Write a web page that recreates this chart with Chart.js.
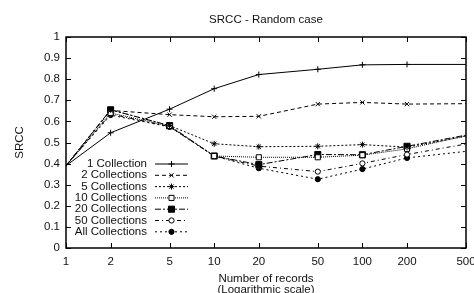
<!DOCTYPE html>
<html>
<head>
<meta charset="utf-8">
<title>SRCC - Random case</title>
<script src="https://cdn.jsdelivr.net/npm/chart.js@4/dist/chart.umd.min.js"></script>
<style>
  html, body { margin: 0; padding: 0; background: #fff; }
  #wrap { width: 474px; height: 293px; }
</style>
</head>
<body>
<div id="wrap"><canvas id="srcc-chart"></canvas></div>
<script>
// data
const records = [1, 2, 5, 10, 20, 50, 100, 200, 500];
const xTicks = [1, 2, 5, 10, 20, 50, 100, 200, 500];
const yTicks = [0, 0.1, 0.2, 0.3, 0.4, 0.5, 0.6, 0.7, 0.8, 0.9, 1];

const coll1 = [0.39, 0.546, 0.658, 0.755, 0.822, 0.847, 0.868, 0.870, 0.870];
const coll2 = [0.39, 0.652, 0.632, 0.622, 0.624, 0.682, 0.690, 0.682, 0.684];
const coll5 = [0.39, 0.655, 0.580, 0.494, 0.480, 0.482, 0.490, 0.478, 0.530];
const coll10 = [0.39, 0.640, 0.578, 0.436, 0.430, 0.430, 0.440, 0.470, 0.532];
const coll20 = [0.39, 0.655, 0.580, 0.436, 0.395, 0.443, 0.442, 0.482, 0.535];
const coll50 = [0.39, 0.635, 0.575, 0.436, 0.388, 0.362, 0.401, 0.443, 0.493];
const collAll = [0.39, 0.630, 0.574, 0.436, 0.378, 0.326, 0.374, 0.427, 0.458];

const FONT = "'Liberation Sans', Arial, Helvetica, sans-serif";
const FS = 11.5;
Chart.defaults.font.family = FONT;
Chart.defaults.font.size = FS;
Chart.defaults.color = '#111';

const toPoints = vals => vals.map((v, i) => ({ x: records[i], y: v }));

// style of each series: dash, marker
function series(label, vals, dash, style, radius, fill) {
  return {
    label: label,
    data: toPoints(vals),
    borderColor: '#000',
    borderWidth: 1,
    borderDash: dash,
    pointStyle: style,
    pointBorderColor: '#000',
    pointBackgroundColor: fill,
    pointBorderWidth: 1,
    // no marker on the frame edges
    pointRadius: c => (c.parsed && (c.parsed.x <= 1 || c.parsed.x >= 500)) ? 0 : radius,
    pointHoverRadius: 0,
    _r: radius,
    tension: 0,
    fill: false
  };
}

const datasets = [
  series('1 Collection', coll1, [], 'cross', 3, '#000'),
  series('2 Collections', coll2, [4, 3], 'crossRot', 3, '#000'),
  series('5 Collections', coll5, [2, 2], 'star', 3, '#000'),
  series('10 Collections', coll10, [1, 1], 'rect', 3.6, '#fff'),
  series('20 Collections', coll20, [6, 2, 2, 2], 'rect', 4.3, '#000'),
  series('50 Collections', coll50, [4, 3, 1, 3], 'circle', 2.6, '#fff'),
  series('All Collections', collAll, [2, 3], 'circle', 2.6, '#000')
];

// gnuplot style frame with inward ticks on all four sides
const frame = {
  id: 'frame',
  afterDatasetsDraw(chart) {
    const { ctx, chartArea: a, scales } = chart;
    const t = 5;
    ctx.save();
    ctx.strokeStyle = '#000';
    ctx.lineWidth = 1;
    ctx.beginPath();
    xTicks.forEach(v => {
      const x = Math.round(scales.x.getPixelForValue(v)) + 0.5;
      ctx.moveTo(x, a.bottom); ctx.lineTo(x, a.bottom - t);
      ctx.moveTo(x, a.top); ctx.lineTo(x, a.top + t);
    });
    yTicks.forEach(v => {
      const y = Math.round(scales.y.getPixelForValue(v)) + 0.5;
      ctx.moveTo(a.left, y); ctx.lineTo(a.left + t, y);
      ctx.moveTo(a.right, y); ctx.lineTo(a.right - t, y);
    });
    ctx.stroke();
    ctx.lineWidth = 1.5;
    ctx.strokeRect(a.left, a.top, a.right - a.left, a.bottom - a.top);

    // title centred over the plot, like gnuplot
    ctx.fillStyle = '#111';
    ctx.font = FS + 'px ' + FONT;
    ctx.textAlign = 'center';
    ctx.textBaseline = 'middle';
    ctx.fillText('SRCC - Random case', (a.left + a.right) / 2, 20);
    ctx.restore();
  }
};

// key inside the plot, bottom left
const key = {
  id: 'key',
  afterDatasetsDraw(chart) {
    const { ctx } = chart;
    const textRight = 147, x0 = 155, x1 = 188, y0 = 164, step = 11.3;
    ctx.save();
    ctx.font = FS + 'px ' + FONT;
    ctx.textAlign = 'right';
    ctx.textBaseline = 'middle';
    chart.data.datasets.forEach((ds, i) => {
      const y = y0 + i * step;
      ctx.fillStyle = '#111';
      ctx.fillText(ds.label, textRight, y);
      ctx.strokeStyle = '#000';
      ctx.lineWidth = 1;
      ctx.setLineDash(ds.borderDash);
      ctx.beginPath();
      ctx.moveTo(x0, y); ctx.lineTo(x1, y);
      ctx.stroke();
      ctx.setLineDash([]);
      ctx.fillStyle = ds.pointBackgroundColor;
      Chart.helpers.drawPoint(ctx, {
        pointStyle: ds.pointStyle, radius: ds._r, rotation: 0, borderWidth: 1
      }, (x0 + x1) / 2, y);
    });
    ctx.restore();
  }
};

new Chart(document.getElementById('srcc-chart'), {
  type: 'line',
  data: { datasets: datasets },
  plugins: [frame, key],
  options: {
    responsive: true,
    maintainAspectRatio: false,
    animation: false,
    events: [],
    layout: { padding: { left: 0, right: 8, top: 37, bottom: 0 } },
    plugins: {
      legend: { display: false },
      tooltip: { enabled: false },
      title: { display: false }
    },
    scales: {
      x: {
        type: 'logarithmic',
        min: 1,
        max: 500,
        afterBuildTicks: s => { s.ticks = xTicks.map(v => ({ value: v })); },
        afterFit: s => { s.height = 45; s.paddingLeft = 0; s.paddingRight = 0; },
        grid: { display: false, drawTicks: false },
        border: { display: false },
        ticks: {
          padding: 7,
          autoSkip: false,
          maxRotation: 0,
          color: '#111',
          callback: v => String(v)
        },
        title: {
          display: true,
          text: ['Number of records', '(Logarithmic scale)'],
          font: { size: FS, lineHeight: 0.96 },
          padding: { top: 0, bottom: -2.5 }
        }
      },
      y: {
        min: 0,
        max: 1,
        afterBuildTicks: s => { s.ticks = yTicks.map(v => ({ value: v })); },
        afterFit: s => { s.width = 66; s.paddingTop = 0; s.paddingBottom = 0; },
        grid: { display: false, drawTicks: false },
        border: { display: false },
        ticks: {
          padding: 6,
          color: '#111',
          callback: v => String(parseFloat(v.toFixed(1)))
        },
        title: {
          display: true,
          text: 'SRCC',
          font: { size: FS },
          padding: { top: 13.4, bottom: 0 }
        }
      }
    }
  }
});
</script>
</body>
</html>
